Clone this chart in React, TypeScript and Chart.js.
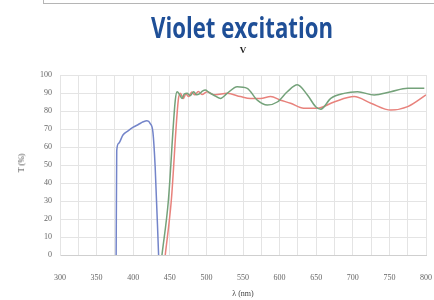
import React, { useEffect, useRef } from "react";
import { Chart, registerables } from "chart.js";

Chart.register(...registerables);

const xTickValues = [300, 350, 400, 450, 500, 550, 600, 650, 700, 750, 800];
const yTickValues = [0, 10, 20, 30, 40, 50, 60, 70, 80, 90, 100];

const blueNm = [376.7, 377.5, 380, 386, 393, 400, 407, 413.7, 418.8, 423.3, 427, 430, 434.7];
const blueT = [0, 58, 62, 66.7, 69, 71, 72.5, 74, 74.6, 73, 68, 49, 0];

const greenNm = [439.3, 448, 457.5, 460, 463.5, 466.7, 470, 473.6, 478, 482.6, 486.5, 490.4, 494.5, 498.6, 503, 509.6, 519.2, 528.4, 542, 555.8, 569.5, 583.2, 596.8, 610.5, 624.2, 638, 649.3, 656.2, 669.9, 688, 706.4, 729.2, 752, 775, 797.7];
const greenT = [0, 30, 86, 90.7, 89, 87, 89.5, 89.8, 88.5, 90.7, 89, 89.5, 91, 91.7, 90.5, 88.9, 87, 89.8, 93.5, 92.6, 86, 83.3, 85, 90.7, 94.6, 88.9, 82.4, 81, 87, 89.8, 90.7, 88.9, 90.7, 92.6, 92.6];

const redNm = [443.8, 452, 461.6, 464.4, 468.5, 472, 475.8, 480, 484, 489, 494, 501, 507, 512, 528.4, 546.6, 560.3, 574, 587.7, 601.4, 615, 633, 651.6, 674.4, 701.8, 724.7, 752, 775, 800];
const redT = [0, 30, 86, 89.8, 87, 89.5, 88, 90.5, 89, 90.8, 89.2, 90.7, 89.5, 89, 89.8, 88, 87, 87, 88, 86, 84.3, 81.5, 81.5, 85, 88, 84.3, 80.5, 82.4, 88.9];

const toPoints = (xs: number[], ys: number[]) => xs.map((x, i) => ({ x, y: ys[i] }));

export default function App() {
  const ref = useRef<HTMLCanvasElement | null>(null);

  useEffect(() => {
    if (!ref.current) return;
    const tickFont = { family: "'Liberation Serif', serif", size: 8 };
    const chart = new Chart(ref.current, {
      type: "line",
      data: {
        datasets: [
          {
            data: toPoints(blueNm, blueT),
            borderColor: "#7384c9",
            borderWidth: 1.5,
            pointRadius: 0,
            cubicInterpolationMode: "monotone",
          },
          {
            data: toPoints(greenNm, greenT),
            borderColor: "#74a27a",
            borderWidth: 1.5,
            pointRadius: 0,
            cubicInterpolationMode: "monotone",
          },
          {
            data: toPoints(redNm, redT),
            borderColor: "#e8827c",
            borderWidth: 1.5,
            pointRadius: 0,
            cubicInterpolationMode: "monotone",
          },
        ],
      },
      options: {
        responsive: false,
        animation: false,
        events: [],
        layout: { padding: { top: 75, right: 8, left: 0, bottom: 0 } },
        plugins: { legend: { display: false }, title: { display: false }, tooltip: { enabled: false } },
        scales: {
          x: {
            type: "linear",
            min: 300,
            max: 800,
            afterFit: (s: any) => {
              s.height = 45;
              s.paddingRight = 0;
              s.paddingLeft = 0;
            },
            afterBuildTicks: (s: any) => {
              const t: any[] = [];
              for (let v = 300; v <= 800; v += 25) t.push({ value: v });
              s.ticks = t;
            },
            ticks: {
              padding: 18,
              color: "#666",
              font: tickFont,
              maxRotation: 0,
              autoSkip: false,
              callback: (v: any) => (xTickValues.includes(Number(v)) ? String(v) : ""),
            },
            grid: { color: "#e4e4e4", drawTicks: false, lineWidth: 1 },
            border: { color: "#cfcfcf" },
          },
          y: {
            min: 0,
            max: 100,
            afterFit: (s: any) => {
              s.width = 60;
              s.paddingTop = 0;
              s.paddingBottom = 0;
            },
            afterBuildTicks: (s: any) => {
              s.ticks = yTickValues.map((v) => ({ value: v }));
            },
            ticks: { padding: 8, color: "#666", font: tickFont },
            grid: { color: "#e4e4e4", drawTicks: false, lineWidth: 1 },
            border: { color: "#e4e4e4" },
          },
        },
      },
    } as any);
    return () => chart.destroy();
  }, []);

  return (
    <div style={{ position: "fixed", left: 0, top: 0, width: 434, height: 300, background: "#fff", overflow: "hidden" }}>
      <div
        style={{
          position: "absolute",
          left: 43,
          top: -2,
          width: 391,
          height: 5,
          borderLeft: "1px solid #b5b5b5",
          borderBottom: "1px solid #b5b5b5",
        }}
      />
      <canvas ref={ref} width={434} height={300} style={{ position: "absolute", left: 0, top: 0 }} />
      <div
        style={{
          position: "absolute",
          left: 242,
          top: 26,
          transform: "translate(-50%, -50%) scaleX(0.765)",
          whiteSpace: "nowrap",
          fontFamily: "'Open Sans', sans-serif",
          fontWeight: 700,
          fontSize: 29,
          color: "#1f4f97",
          lineHeight: 1,
        }}
      >
        Violet excitation
      </div>
      <div
        style={{
          position: "absolute",
          left: 243,
          top: 50,
          transform: "translate(-50%, -50%)",
          fontFamily: "'Liberation Serif', serif",
          fontWeight: 700,
          fontSize: 9,
          color: "#222",
          lineHeight: 1,
        }}
      >
        V
      </div>
      <div
        style={{
          position: "absolute",
          left: 22,
          top: 163,
          transform: "translate(-50%, -50%) rotate(-90deg)",
          whiteSpace: "nowrap",
          fontFamily: "'Liberation Serif', serif",
          fontSize: 8,
          color: "#444",
          lineHeight: 1,
        }}
      >
        T (%)
      </div>
      <div
        style={{
          position: "absolute",
          left: 243,
          top: 294,
          transform: "translate(-50%, -50%)",
          whiteSpace: "nowrap",
          fontFamily: "'Liberation Serif', serif",
          fontSize: 8,
          color: "#444",
          lineHeight: 1,
        }}
      >
        λ (nm)
      </div>
    </div>
  );
}
